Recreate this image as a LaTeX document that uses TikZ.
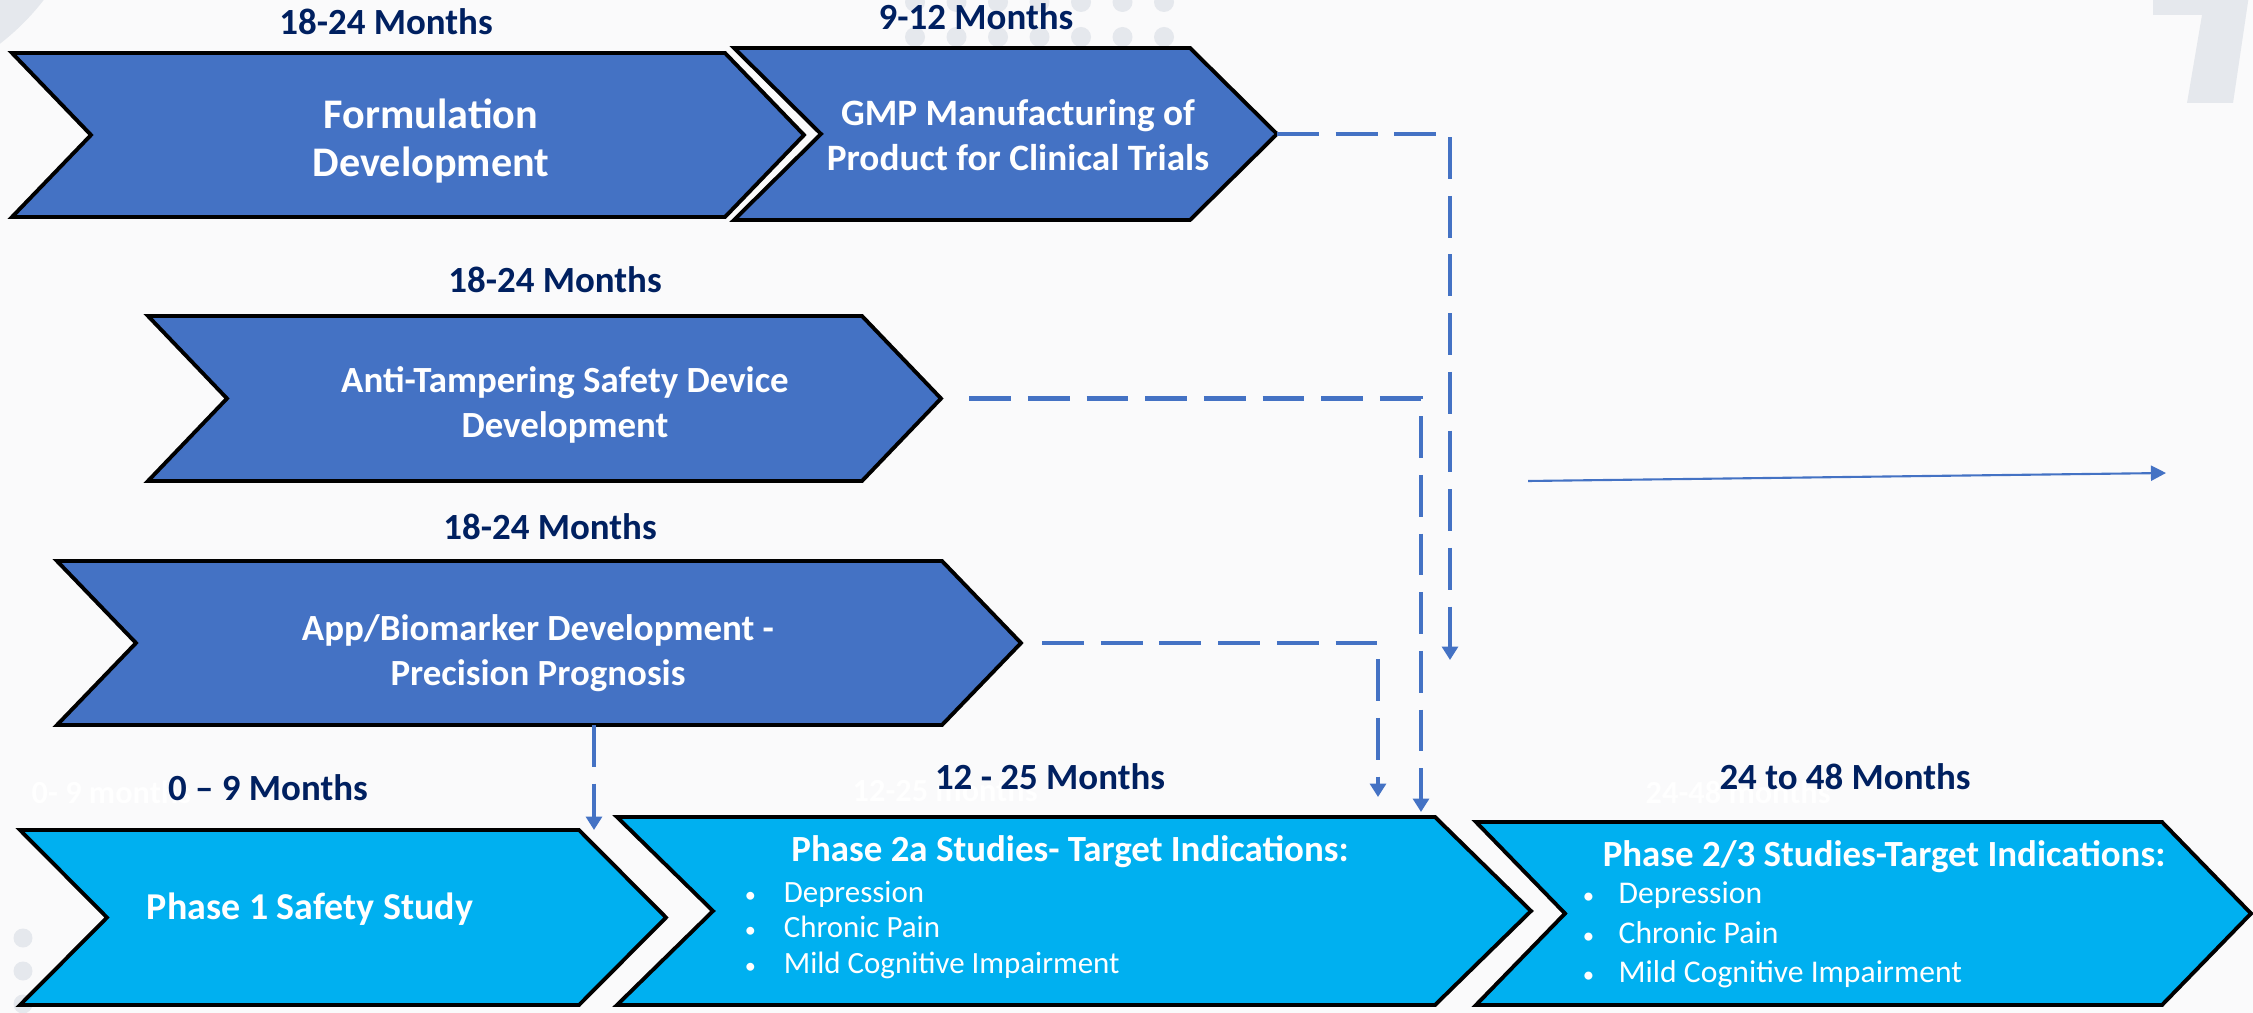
\documentclass[tikz,border=0pt]{standalone}
\usepackage{fontspec}
\setmainfont{Carlito}
\usetikzlibrary{arrows.meta}

\definecolor{bgpage}{RGB}{250,250,251}
\definecolor{deco}{RGB}{229,232,237}
\definecolor{devblue}{RGB}{68,114,196}
\definecolor{trialcyan}{RGB}{0,176,240}
\definecolor{monthnavy}{RGB}{0,32,96}

\tikzset{
  chev/.style={draw=black, line width=1.1pt, line join=miter},
  month/.style={text=monthnavy, font=\fontsize{10.5}{12}\selectfont\bfseries, inner sep=0pt},
  ghost/.style={text=white, font=\fontsize{9.2}{11}\selectfont\bfseries, anchor=west, inner sep=0pt},
  title/.style={text=white, font=\fontsize{10.5}{12.8}\selectfont\bfseries, align=center, inner sep=0pt},
  items/.style={text=white, anchor=west, align=left, inner sep=0pt},
  link/.style={devblue, line width=1.3pt, dash pattern=on 11.9pt off 4.8pt,
    -{Triangle[length=3.8pt,width=4.5pt]}},
}

% chevron: name, left, corner, tip, top, bottom, fill
\newcommand{\chevron}[7]{%
  \filldraw[chev, fill=#7] (#2,#5) -- (#3,#5) -- (#4,{(#5+#6)/2}) -- (#3,#6)
    -- (#2,#6) -- ({#2+#4-#3},{(#5+#6)/2}) -- cycle;
  \coordinate (#1-tip) at (#4,{(#5+#6)/2});
}
\newcommand{\bul}[1]{\makebox[#1][l]{\hspace{0.6pt}\scalebox{0.72}{\textbullet}}}

\begin{document}
\begin{tikzpicture}[x=0.1mm, y=-0.1mm]
  \useasboundingbox (0,0) rectangle (2253,1013);
  % page background
  \fill[bgpage] (0,0) rectangle (2253,1013);
  \fill[deco] (-150,-150) circle (24.5mm);
  \foreach \i in {0,...,6}
    \foreach \j in {0,1}
      \fill[deco] ({915+41.5*\i},{2+35*\j}) circle (1mm);
  \foreach \j in {0,1,2}
    \fill[deco] (23,{938+33*\j}) circle (0.95mm);
  \fill[deco] (2153,-5) -- (2153,15) -- (2202,15) -- (2187,103) -- (2233,103) -- (2249,-5) -- cycle;

  % development track
  \chevron{form}{12}{725}{804}{53}{217}{devblue}
  \chevron{gmp}{734}{1190}{1277}{48}{220}{devblue}
  \chevron{anti}{148}{862}{941}{316}{481}{devblue}
  \chevron{app}{57}{942}{1021}{561}{725}{devblue}
  % clinical track
  \chevron{ph1}{20}{579}{666}{830}{1005}{trialcyan}
  \chevron{ph2}{617}{1435}{1531}{817}{1005}{trialcyan}
  \chevron{ph3}{1476}{2162}{2251}{822}{1005}{trialcyan}

  \node[ghost] (g-ph1) at (31,792) {0- 9 months};
  \node[ghost] (g-ph2) at (852,790) {12-25 months};
  \node[ghost] (g-ph3) at (1645,792) {24-48 months};

  \node[month] (m-form) at (386,22) {18-24 Months};
  \node[month] (m-gmp) at (976,17) {9-12 Months};
  \node[month] (m-anti) at (555,280) {18-24 Months};
  \node[month] (m-app) at (550,527) {18-24 Months};
  \node[month] (m-ph1) at (268,788) {0 – 9 Months};
  \node[month] (m-ph2) at (1050,777) {12 - 25 Months};
  \node[month] (m-ph3) at (1845,777) {24 to 48 Months};

  \node[title, font=\fontsize{12}{13.6}\selectfont\bfseries] (t-form) at (431,141) {Formulation\\Development};
  \node[title, font=\fontsize{10.6}{13}\selectfont\bfseries] (t-gmp) at (1018,135) {GMP Manufacturing of\\Product for Clinical Trials};
  \node[title] (t-anti) at (565,405) {Anti-Tampering Safety Device\\Development};
  \node[title] (t-app) at (538,653) {App/Biomarker Development -\\Precision Prognosis};
  \node[title, font=\fontsize{10.8}{13}\selectfont\bfseries] (t-ph1) at (310,909) {Phase 1 Safety Study};
  \node[title] (t-ph2) at (1070,852) {Phase 2a Studies- Target Indications:};
  \node[title] (t-ph3) at (1884,857) {Phase 2/3 Studies-Target Indications:};

  \node[items, font=\fontsize{8.8}{10.1}\selectfont] (l-ph2) at (742,930)
    {\bul{11.7pt}Depression\\\bul{11.7pt}Chronic Pain\\\bul{11.7pt}Mild Cognitive Impairment};
  \node[items, font=\fontsize{9}{11.2}\selectfont] (l-ph3) at (1580,935)
    {\bul{10.8pt}Depression\\\bul{10.8pt}Chronic Pain\\\bul{10.8pt}Mild Cognitive Impairment};

  % hand-over links
  \coordinate (gmp-drop) at (1450,660);
  \coordinate (anti-drop) at (1421,812);
  \coordinate (app-drop) at (1378,797);
  \coordinate (app-base) at (594,725);
  \coordinate (ph1-in) at (594,830);
  \draw[link] (gmp-tip) -| (gmp-drop);
  \draw[link, shorten <=8pt] (anti-tip) -| (anti-drop);
  \draw[link, shorten <=6pt] (app-tip) -| (app-drop);
  \draw[link] (app-base) -- (ph1-in);

  \coordinate (trend-start) at (1528,481);
  \coordinate (trend-end) at (2166,473);
  \draw[devblue, line width=0.6pt, -{Triangle[length=4.3pt,width=4.3pt]}] (trend-start) -- (trend-end);
\end{tikzpicture}
\end{document}
